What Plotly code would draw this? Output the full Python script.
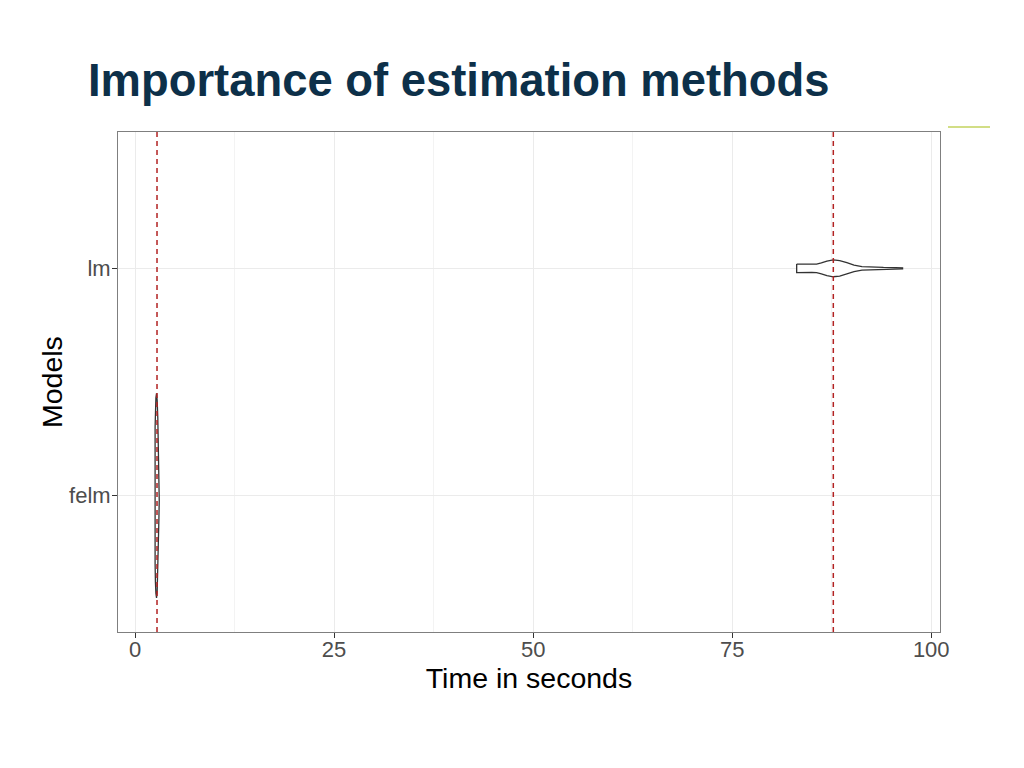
import plotly.graph_objects as go

# ---- data ----
models = ["felm", "lm"]
model_pos = [1, 2]

# violin density profiles (time in s, half-width in category units)
felm_time = [2.52, 2.56, 2.62, 2.70, 2.78, 2.86, 2.94, 3.00, 3.04]
felm_halfwidth = [0.30, 0.38, 0.43, 0.45, 0.42, 0.34, 0.21, 0.10, 0.02]

lm_time = [83.1, 84.0, 85.0, 85.6, 86.2, 86.9, 87.7, 88.5, 89.4, 90.3, 91.3, 92.5, 94.0, 95.5, 96.4]
lm_halfwidth = [0.019, 0.018, 0.018, 0.019, 0.024, 0.032, 0.037, 0.034, 0.025, 0.014, 0.008, 0.005, 0.004, 0.003, 0.002]

mean_times = [2.76, 87.7]

x_ticks = [0, 25, 50, 75, 100]

W, H = 1016, 760  # page body adds an 8px offset

fig = go.Figure()

profiles = [(felm_time, felm_halfwidth), (lm_time, lm_halfwidth)]
for pos, (t, w) in zip(model_pos, profiles):
    xs = list(t) + list(reversed(t)) + [t[0]]
    ys = [pos + v for v in w] + [pos - v for v in reversed(w)] + [pos + w[0]]
    fig.add_trace(go.Scatter(
        x=xs, y=ys, mode="lines", fill="toself", fillcolor="white",
        line=dict(color="#333333", width=1.3), hoverinfo="skip", showlegend=False,
    ))

for m in mean_times:
    fig.add_vline(x=m, line=dict(color="#b22222", width=1.5, dash="5px,4px"))

fig.update_layout(
    width=W, height=H,
    paper_bgcolor="white", plot_bgcolor="white",
    margin=dict(l=110, r=84, t=124, b=136),
    font=dict(family="Liberation Sans, Arial, sans-serif"),
    title=dict(
        text="<b>Importance of estimation methods</b>",
        font=dict(size=45.4, color="#0d3049", family="Liberation Sans, Arial, sans-serif"),
        x=80 / W, xanchor="left", xref="container",
        y=1 - 72 / H, yanchor="middle", yref="container",
    ),
    xaxis=dict(
        range=[-2.14, 101.1], tickvals=x_ticks, ticktext=[str(v) for v in x_ticks],
        showgrid=True, gridcolor="#ebebeb", gridwidth=1.1,
        minor=dict(dtick=12.5, tick0=0, showgrid=True, gridcolor="#f3f3f3", gridwidth=0.6),
        zeroline=False,
        showline=True, mirror=True, linecolor="#7f7f7f", linewidth=1,
        ticks="outside", ticklen=5, tickcolor="#333333",
        ticklabelstandoff=-7,
        tickfont=dict(size=22, color="#4d4d4d"),
        title=dict(text="Time in seconds", font=dict(size=28.5, color="black"), standoff=0),
    ),
    yaxis=dict(
        range=[0.4, 2.6], tickvals=model_pos, ticktext=models,
        showgrid=True, gridcolor="#ebebeb", gridwidth=1.1, zeroline=False,
        showline=True, mirror=True, linecolor="#7f7f7f", linewidth=1,
        ticks="outside", ticklen=5, tickcolor="#333333",
        ticklabelstandoff=-3,
        tickfont=dict(size=22, color="#4d4d4d"),
    ),
    annotations=[dict(
        text="Models", textangle=-90, showarrow=False,
        xref="paper", yref="paper", x=(52 - 118) / 822, y=0.5,
        xanchor="center", yanchor="middle",
        font=dict(size=28.5, color="black"),
    )],
)

# decorative accent line at top right of the slide
fig.add_shape(type="line", xref="paper", yref="paper",
              x0=(948 - 118) / 822, x1=(990 - 118) / 822,
              y0=1 + 5 / 500, y1=1 + 5 / 500,
              line=dict(color="#d2de86", width=2))

fig.write_html("out.html")
